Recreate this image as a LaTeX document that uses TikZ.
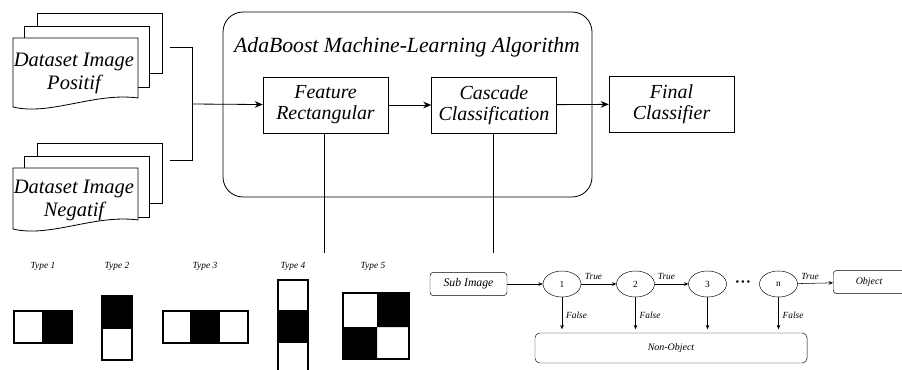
\documentclass[tikz,border=0pt]{standalone}
\usepackage{fontspec}
\setmainfont{Liberation Serif}
\usetikzlibrary{arrows.meta,positioning,shapes.geometric}

\begin{document}
\begin{tikzpicture}[x=0.03cm, y=-0.03cm,
    box/.style={rectangle, draw, fill=white, minimum width=3.75cm, minimum height=1.68cm, font=\fontsize{17}{18}\selectfont\itshape, align=center},
    big/.style={font=\fontsize{17.5}{19.6}\selectfont\itshape, align=center},
    small/.style={font=\fontsize{8}{9}\selectfont\itshape},
    stage/.style={ellipse, draw, minimum width=1.14cm, minimum height=0.78cm, inner sep=0pt, font=\fontsize{8}{9}\selectfont},
    sbox/.style={rectangle, draw, rounded corners=3pt, minimum height=0.7cm, font=\fontsize{8.5}{9}\selectfont\itshape},
    arr/.style={-{Stealth[length=2.4mm, width=2mm]}, line width=0.7pt},
    sarr/.style={-{Stealth[length=1.3mm, width=1.1mm]}, line width=0.45pt},
    haar/.style={draw, line width=1.2pt}
]
\clip (0,0) rectangle (902,370);

% dataset stacks
\foreach \y/\b in {13/98, 143/220} {
    \draw[fill=white, line width=0.7pt] (37,\y) rectangle (162,\y+60);
    \draw[fill=white, line width=0.7pt] (24,\y+13) rectangle (149,\y+74);
    \draw[fill=white, line width=0.7pt] (13,\y+25) -- (138,\y+25) -- (138,\b)
        .. controls (95,\b-6) and (50,\b+18) .. (13,\b+9) -- cycle;
}
\node[big] (pos) at (74,73) {Dataset Image\\Positif};
\node[big] (neg) at (74,200) {Dataset Image\\Negatif};

% algorithm
\node[draw, rounded corners=0.6cm, minimum width=11.07cm, minimum height=5.55cm, line width=0.7pt] (algo) at (407.5,104.5) {};
\node[big, font=\fontsize{18.5}{19}\selectfont\itshape] (algotitle) at (407,47) {AdaBoost Machine-Learning Algorithm};
\node[box] (feat) at (325.5,105) {Feature\\Rectangular};
\node[box] (casc) at (494,105) {Cascade\\Classification};
\node[box] (fin) at (671.5,104) {Final\\Classifier};

\coordinate (posend) at (170,47);
\coordinate (negend) at (170,160);
\coordinate (join) at (192,104);
\draw[line width=0.7pt] (posend) -- (192,47) -- (192,160) -- (negend);
\draw[arr] (join) -- (feat);
\draw[arr] (feat) -- (casc);
\draw[arr] (casc) -- (fin);

\coordinate (featend) at (324,253);
\coordinate (cascend) at (493,253);
\draw[line width=0.7pt] (feat.south -| featend) -- (featend);
\draw[line width=0.7pt] (casc.south -| cascend) -- (cascend);

% feature types
\node[small] (t1) at (43,266) {Type 1};
\node[small] (t2) at (117,266) {Type 2};
\node[small] (t3) at (205,266) {Type 3};
\node[small] (t4) at (293,266) {Type 4};
\node[small] (t5) at (373,266) {Type 5};
\fill (42,311) rectangle (72,343);
\draw[haar] (14,311) rectangle (72,343);
\fill (102,296) rectangle (132,329);
\draw[haar] (102,296) rectangle (132,360);
\fill (190,311) rectangle (220,343);
\draw[haar] (163,311) rectangle (248,343);
\fill (278,310) rectangle (308,343);
\draw[haar] (278,380) -- (278,280) -- (308,280) -- (308,380);
\fill (377,293) rectangle (409,327) (343,327) rectangle (377,359);
\draw[haar] (343,293) rectangle (409,359);

% cascade
\node[sbox, minimum width=2.31cm, font=\fontsize{10}{11}\selectfont\itshape] (sub) at (468.5,284) {Sub Image};
\node[stage] (s1) at (562,284) {1};
\node[stage] (s2) at (635.5,284) {2};
\node[stage] (s3) at (707.5,284) {3};
\node[font=\fontsize{9}{9}\selectfont] (dots) at (743,283) {\textbullet\,\textbullet\,\textbullet};
\node[stage] (sn) at (778.5,284) {n};
\node[sbox, minimum width=2.4cm, anchor=west] (obj) at (833,282) {\hspace{-0.25cm}Object};
\node[sbox, rounded corners=4pt, minimum width=8.16cm, minimum height=0.9cm] (nonobj) at (671,348) {Non-Object};

\draw[sarr] (sub) -- (s1);
\draw[sarr] (s1) -- node[small, above, pos=0.35] {True} (s2);
\draw[sarr] (s2) -- node[small, above, pos=0.35] {True} (s3);
\draw[sarr] (sn) -- node[small, above, pos=0.35] {True} (obj);
\draw[sarr, shorten >=3pt] (s1.south) -- node[small, right] {False} (s1.south |- nonobj.north);
\draw[sarr, shorten >=3pt] (s2.south) -- node[small, right] {False} (s2.south |- nonobj.north);
\draw[sarr, shorten >=3pt] (s3.south) -- (s3.south |- nonobj.north);
\draw[sarr, shorten >=3pt] (sn.south) -- node[small, right] {False} (sn.south |- nonobj.north);
\end{tikzpicture}
\end{document}
